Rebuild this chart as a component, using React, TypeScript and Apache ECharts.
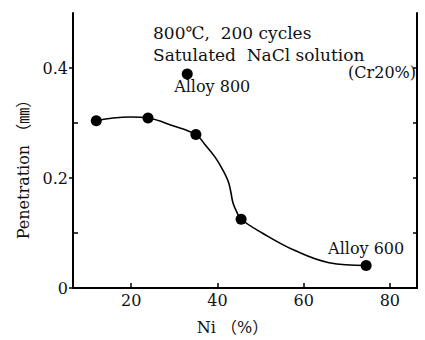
import React, { useEffect, useRef } from "react";
import * as echarts from "echarts";

const niMeasured = [11.9, 23.9, 35.0, 45.5, 74.5];
const penMeasured = [0.304, 0.309, 0.279, 0.125, 0.041];
const alloy800Ni = [33.0];
const alloy800Pen = [0.389];
const curveNi = [11.9, 15.8, 19.8, 23.9, 29.7, 35.0, 37.1, 39.5, 41.3, 42.5, 43.1, 43.6, 44.5, 45.5, 50.4, 58.0, 65.9, 74.5];
const curvePen = [0.304, 0.309, 0.311, 0.309, 0.295, 0.279, 0.261, 0.2375, 0.214, 0.194, 0.175, 0.155, 0.138, 0.125, 0.100, 0.068, 0.046, 0.041];
const xTicks = [20, 40, 60, 80];
const yMajorTicks = [0, 0.2, 0.4];
const yMinorTicks = [0.1, 0.3];
const yRightTicks = [0.1, 0.2, 0.3, 0.4];

const FONT = "'DejaVu Serif', 'Noto Sans CJK JP', serif";

export default function App() {
  const ref = useRef<HTMLDivElement>(null);
  useEffect(() => {
    if (!ref.current) return;
    const chart = echarts.init(ref.current, null, { renderer: "svg" });
    const zip = (a: number[], b: number[]) => a.map((v, i) => [v, b[i]]);
    chart.setOption({
      animation: false,
      backgroundColor: "#fff",
      textStyle: { fontFamily: FONT, color: "#111" },
      grid: { left: 73, top: 13, right: 8, bottom: 47 },
      xAxis: [
        {
          type: "value",
          min: 6.5,
          max: 86.3,
          position: "bottom",
          name: "Ni （%）",
          nameLocation: "middle",
          nameGap: 31,
          nameTextStyle: { fontFamily: FONT, fontSize: 16, color: "#111", padding: [0, 25, 0, 0] },
          axisLine: { show: true, lineStyle: { color: "#000", width: 2 } },
          axisTick: { show: true, inside: true, length: 5, customValues: xTicks, lineStyle: { color: "#000", width: 1.5 } },
          axisLabel: { show: true, customValues: xTicks, margin: 4, fontFamily: FONT, fontSize: 16, color: "#111" },
          splitLine: { show: false },
        },
        {
          type: "value",
          min: 6.5,
          max: 86.3,
          position: "top",
          axisLine: { show: true, lineStyle: { color: "#000", width: 2 } },
          axisTick: { show: false },
          axisLabel: { show: false },
          splitLine: { show: false },
        },
      ],
      yAxis: [
        {
          type: "value",
          min: 0,
          max: 0.5,
          position: "left",
          name: "Penetration （㎜）",
          nameLocation: "middle",
          nameGap: 40,
          nameRotate: 90,
          nameTextStyle: { fontFamily: FONT, fontSize: 16, color: "#111", padding: [0, 30, 0, 0] },
          axisLine: { show: true, lineStyle: { color: "#000", width: 2 } },
          axisTick: { show: true, inside: false, length: 4, customValues: yMajorTicks, lineStyle: { color: "#000", width: 1.5 } },
          axisLabel: {
            show: true,
            customValues: yMajorTicks,
            margin: 5,
            fontFamily: FONT,
            fontSize: 16,
            color: "#111",
            formatter: (v: number) => (v === 0 ? "0" : v.toFixed(1)),
          },
          splitLine: { show: false },
        },
        {
          type: "value",
          min: 0,
          max: 0.5,
          position: "left",
          offset: 0,
          axisLine: { show: false },
          axisTick: { show: true, inside: true, length: 5, customValues: yMinorTicks, lineStyle: { color: "#000", width: 1.5 } },
          axisLabel: { show: false },
          splitLine: { show: false },
        },
        {
          type: "value",
          min: 0,
          max: 0.5,
          position: "right",
          axisLine: { show: true, lineStyle: { color: "#000", width: 2 } },
          axisTick: { show: true, inside: true, length: 4, customValues: yRightTicks, lineStyle: { color: "#000", width: 1.5 } },
          axisLabel: { show: false },
          splitLine: { show: false },
        },
      ],
      graphic: [
        {
          type: "text",
          x: 153,
          y: 33,
          style: { text: "800℃,  200 cycles", font: `17px ${FONT}`, fill: "#111", verticalAlign: "middle", align: "left" },
        },
        {
          type: "text",
          x: 153,
          y: 55,
          style: { text: "Satulated  NaCl solution", font: `17px ${FONT}`, fill: "#111", verticalAlign: "middle", align: "left" },
        },
        {
          type: "text",
          x: 416,
          y: 72,
          style: { text: "(Cr20%)", font: `16px ${FONT}`, fill: "#111", verticalAlign: "middle", align: "right" },
        },
      ],
      series: [
        {
          type: "line",
          data: zip(curveNi, curvePen),
          smooth: 0.4,
          showSymbol: false,
          symbol: "none",
          lineStyle: { color: "#000", width: 1.6 },
          z: 2,
        },
        {
          type: "scatter",
          data: zip(niMeasured, penMeasured).map((p, i) =>
            i === niMeasured.length - 1
              ? {
                  value: p,
                  label: {
                    show: true,
                    position: "top",
                    offset: [0, 2],
                    formatter: "Alloy 600",
                    fontFamily: FONT,
                    fontSize: 16,
                    color: "#111",
                  },
                }
              : { value: p }
          ),
          symbol: "circle",
          symbolSize: 11,
          itemStyle: { color: "#000", opacity: 1 },
          z: 3,
        },
        {
          type: "scatter",
          data: zip(alloy800Ni, alloy800Pen),
          symbol: "circle",
          symbolSize: 11,
          itemStyle: { color: "#000", opacity: 1 },
          label: {
            show: true,
            position: "bottom",
            offset: [25, -6],
            formatter: "Alloy 800",
            fontFamily: FONT,
            fontSize: 16,
            color: "#111",
          },
          z: 3,
        },
      ],
    });
    return () => chart.dispose();
  }, []);
  return (
    <div
      ref={ref}
      style={{ position: "fixed", left: 0, top: 0, width: 425, height: 340, background: "#fff" }}
    />
  );
}
